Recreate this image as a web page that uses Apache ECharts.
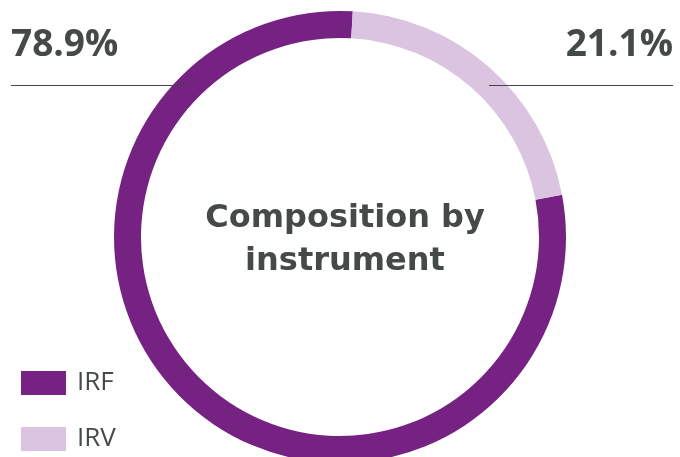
<!DOCTYPE html>
<html>
<head>
<meta charset="utf-8">
<script src="https://cdn.jsdelivr.net/npm/echarts@6/dist/echarts.min.js"></script>
<style>
html,body{margin:0;padding:0;background:#fff;}
#chart{width:680px;height:457px;}
</style>
</head>
<body>
<div id="chart"></div>
<script>
const categories = ['IRF', 'IRV'];
const values = [78.9, 21.1];
const colors = ['#762282', '#DAC4E0'];
const centerTitle = 'Composition by\ninstrument';

const total = values.reduce((a, b) => a + b, 0);
const pct = values.map(v => (v / total * 100).toFixed(1) + '%');
const FONT = '"Open Sans", Lato, sans-serif';
const TFONT = '"DejaVu Sans", "Open Sans", sans-serif';
const TXT = '#454949';

const legendBase = {
  orient: 'vertical',
  left: 21,
  padding: 0,
  icon: 'rect',
  itemWidth: 45,
  itemHeight: 24,
  selectedMode: false,
  textStyle: {fontFamily: FONT, fontSize: 26, fontWeight: 500, color: TXT, padding: [0, 0, 0, 6]}
};

const chart = echarts.init(document.getElementById('chart'), null, {renderer: 'canvas'});
chart.setOption({
  animation: false,
  backgroundColor: '#ffffff',
  color: colors,
  title: {
    text: centerTitle,
    left: 340,
    top: 235,
    textAlign: 'center',
    textVerticalAlign: 'middle',
    textStyle: {fontFamily: TFONT, fontWeight: 'bold', fontSize: 32, lineHeight: 43, color: TXT}
  },
  legend: [
    Object.assign({}, legendBase, {top: 370, data: [categories[0]]}),
    Object.assign({}, legendBase, {top: 426, data: [categories[1]]})
  ],
  series: [{
    type: 'pie',
    center: [340, 237],
    radius: [199, 226],
    startAngle: 10.8,
    clockwise: true,
    silent: true,
    label: {show: false},
    labelLine: {show: false},
    emphasis: {disabled: true},
    data: categories.map((c, i) => ({name: c, value: values[i]}))
  }],
  graphic: [
    {type: 'text', left: 11, top: 27, z: 10,
     style: {text: pct[0], font: 'bold 37px ' + FONT, fill: TXT}},
    {type: 'text', right: 7, top: 27, z: 10,
     style: {text: pct[1], font: 'bold 37px ' + FONT, fill: TXT}},
    {type: 'line', z: 10, shape: {x1: 11, y1: 85.5, x2: 191, y2: 85.5},
     style: {stroke: '#444444', lineWidth: 1}},
    {type: 'line', z: 10, shape: {x1: 489, y1: 85.5, x2: 673, y2: 85.5},
     style: {stroke: '#444444', lineWidth: 1}}
  ]
});
</script>
</body>
</html>
